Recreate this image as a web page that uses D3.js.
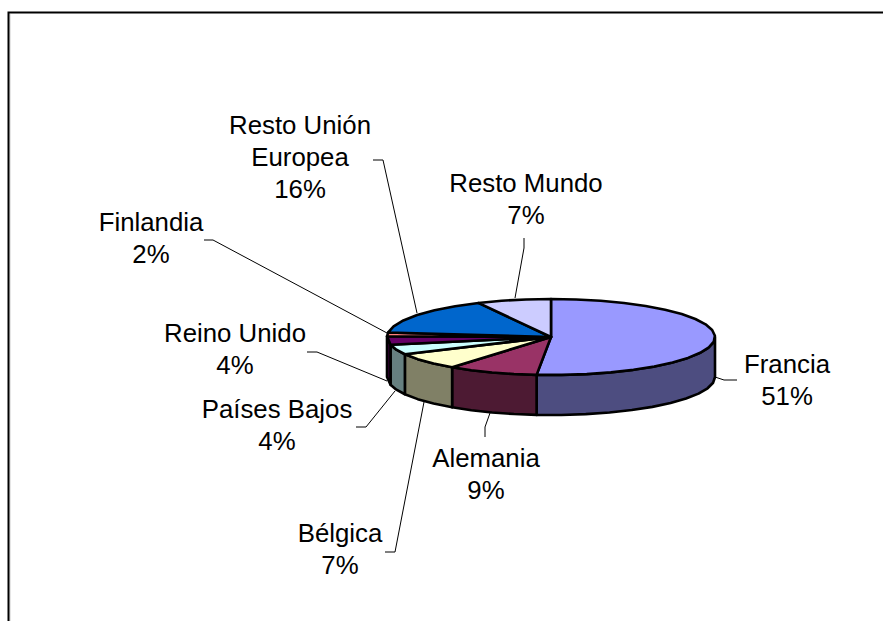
<!DOCTYPE html>
<html lang="es">
<head>
    <meta charset="UTF-8">
    <title>Pie</title>
    <style>
        body { margin: 0; background: #fff; }
        text { font-family: "Liberation Sans", Arial, sans-serif; font-size: 25.8px; fill: #000; text-anchor: middle; }
    </style>
</head>
<body>
    <script src="https://d3js.org/d3.v7.min.js"></script>
    <script>
        // datos (%), a partir de las 12 en sentido horario
        var categories = ["Francia", "Alemania", "Bélgica", "Países Bajos", "Reino Unido", "Finlandia", "Resto Unión Europea", "Resto Mundo"];
        var shares = [51.4, 8.9, 7.2, 4.2, 3.6, 1.6, 15.8, 7.3];
        var topColors = ["#9999FF", "#993366", "#FFFFCC", "#CCFFFF", "#660066", "#FF8080", "#0066CC", "#CCCCFF"];
        var sideColors = ["#4D4D80", "#4D1A33", "#808066", "#668080", "#330033", "#804040", "#003366", "#666680"];

        // donde va cada etiqueta: lineas de texto (centro x, base y) y linea guia
        var labelLines = [["Francia"], ["Alemania"], ["Bélgica"], ["Países Bajos"], ["Reino Unido"], ["Finlandia"], ["Resto Unión", "Europea"], ["Resto Mundo"]];
        var labelX = [787, 486, 340, 277, 235, 151, 300, 526];
        var labelY = [373, 467, 542, 418, 342, 231, 134, 192];
        var leaders = [
            [[715, 377], [724, 380], [737, 380]],
            [[490, 413], [485, 427], [485, 437]],
            [[424, 402], [395, 552], [385, 552]],
            [[395, 391], [366, 427], [356, 427]],
            [[387, 381], [317, 352], [307, 352]],
            [[387, 333], [213, 240], [204, 240]],
            [[417, 313], [383, 160], [373, 160]],
            [[515, 298], [524, 248], [524, 238]]
        ];

        var width = 883, height = 621;
        var cx = 551, cy = 337, rx = 164, ry = 38, depth = 40;
        var lineGap = 32;

        var svg = d3.select("body").append("svg")
            .attr("width", width)
            .attr("height", height)
            .style("display", "block");

        // marco
        svg.append("path").attr("d", "M10,621V14").attr("fill", "none").attr("stroke", "#ccc").attr("stroke-width", 1);
        svg.append("path").attr("d", "M8.5,621V12.5H883").attr("fill", "none").attr("stroke", "#000").attr("stroke-width", 2);

        var pie = d3.pie().sort(null);
        var slices = pie(shares);

        function px(a) { return cx + rx * Math.sin(a); }
        function py(a) { return cy - ry * Math.cos(a); }

        // arco del borde, un poco poligonal como en el original
        function rim(a0, a1) {
            var n = Math.max(1, Math.round((a1 - a0) / (Math.PI / 20)));
            return d3.range(n + 1).map(function(i) {
                var a = a0 + (a1 - a0) * i / n;
                return [px(a), py(a)];
            });
        }
        var line = d3.line();

        // lado: solo la mitad delantera de la elipse
        var side = svg.append("g").attr("id", "sides");
        slices.forEach(function(d, i) {
            var a0 = Math.max(d.startAngle, Math.PI / 2), a1 = Math.min(d.endAngle, Math.PI * 1.5);
            if (a1 <= a0) return;
            var upper = rim(a0, a1);
            var lower = upper.slice().reverse().map(function(p) { return [p[0], p[1] + depth]; });
            side.append("path")
                .attr("d", line(upper.concat(lower)) + "Z")
                .attr("fill", sideColors[i])
                .attr("stroke", "#000")
                .attr("stroke-width", 2.6)
                .attr("stroke-linejoin", "round");
        });

        // tapa
        var lid = svg.append("g").attr("id", "lid");
        lid.selectAll("path")
            .data(slices)
            .enter().append("path")
            .attr("d", function(d) { return line([[cx, cy]].concat(rim(d.startAngle, d.endAngle))) + "Z"; })
            .attr("fill", function(d, i) { return topColors[i]; })
            .attr("stroke", "#000")
            .attr("stroke-width", 2.6)
            .attr("stroke-linejoin", "round");

        // lineas guia
        svg.append("g").selectAll("path")
            .data(leaders)
            .enter().append("path")
            .attr("d", function(d) { return line(d); })
            .attr("fill", "none")
            .attr("stroke", "#000")
            .attr("stroke-width", 1);

        // etiquetas
        var pct = d3.format(".0f");
        categories.forEach(function(c, i) {
            var lines = labelLines[i].concat([pct(shares[i]) + "%"]);
            var g = svg.append("text")
                .attr("transform", "translate(" + labelX[i] + "," + labelY[i] + ")");
            lines.forEach(function(t, j) {
                g.append("tspan").attr("x", 0).attr("y", j * lineGap).text(t);
            });
        });
    </script>
</body>
</html>
